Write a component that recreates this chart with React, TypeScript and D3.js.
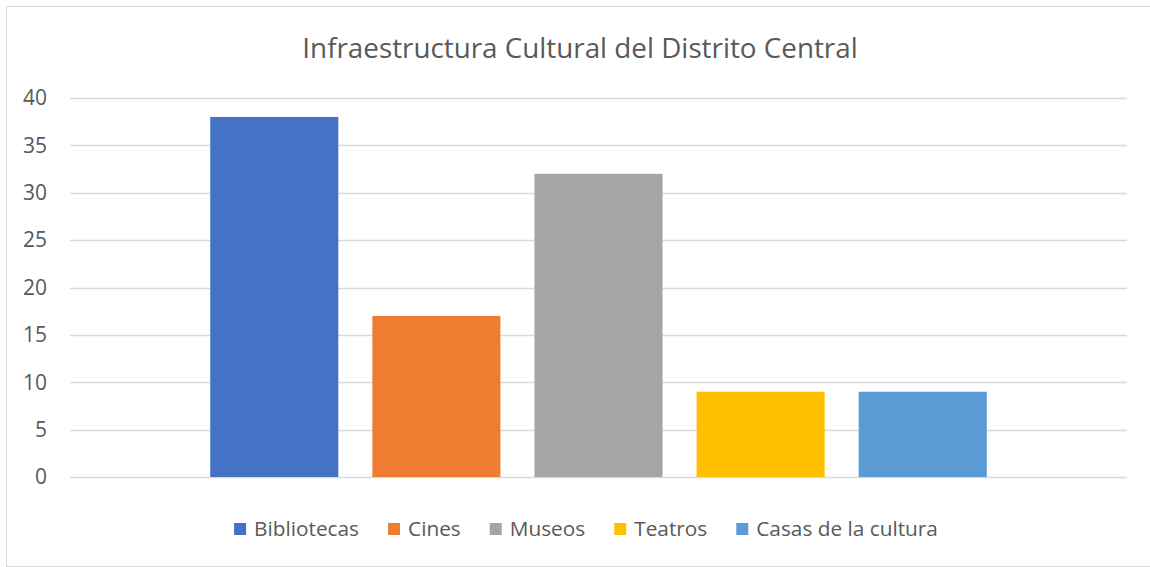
import React, { useEffect, useRef } from "react";
import * as d3 from "d3";

const title = "Infraestructura Cultural del Distrito Central";
const category = "Distrito Central";
const seriesNames = ["Bibliotecas", "Cines", "Museos", "Teatros", "Casas de la cultura"];
const seriesValues = [38, 17, 32, 9, 9];
const seriesColors = ["#4472C4", "#ED7D31", "#A5A5A5", "#FFC000", "#5B9BD5"];
const yTicks = [0, 5, 10, 15, 20, 25, 30, 35, 40];

const W = 1150;
const H = 567;
const FONT = "'Open Sans', sans-serif";
const TEXT = "#595959";
const GRID = "#d9d9d9";

export default function App() {
  const ref = useRef<SVGSVGElement>(null);

  useEffect(() => {
    const svg = d3.select(ref.current);
    svg.selectAll("*").remove();

    const plotLeft = 70;
    const plotRight = 1127;
    const plotTop = 98;
    const plotBottom = 477;

    // chart border
    svg.append("rect")
      .attr("x", 6.5).attr("y", 6.5)
      .attr("width", W + 10).attr("height", H - 7)
      .attr("fill", "white").attr("stroke", GRID).attr("stroke-width", 1);

    const y = d3.scaleLinear().domain([0, 40]).range([plotBottom, plotTop]);
    const x0 = d3.scaleBand<string>().domain([category]).range([plotLeft, plotRight]);
    const x1 = d3.scaleBand<string>()
      .domain(seriesNames)
      .range([x0(category)!, x0(category)! + x0.bandwidth()])
      .paddingInner(0.21)
      .paddingOuter(0.865);

    // gridlines
    svg.append("g").selectAll("line").data(yTicks).join("line")
      .attr("x1", plotLeft).attr("x2", plotRight)
      .attr("y1", d => Math.round(y(d)) + 0.5).attr("y2", d => Math.round(y(d)) + 0.5)
      .attr("stroke", GRID).attr("stroke-width", 1.3);

    // y labels
    svg.append("g").selectAll("text").data(yTicks).join("text")
      .attr("x", 47).attr("y", d => y(d))
      .attr("dy", "0.35em")
      .attr("text-anchor", "end")
      .attr("font-family", FONT).attr("font-size", 21)
      .attr("fill", TEXT)
      .text(d => String(d));

    // bars
    svg.append("g").selectAll("rect").data(seriesNames).join("rect")
      .attr("x", d => x1(d)!)
      .attr("width", x1.bandwidth())
      .attr("y", (_, i) => y(seriesValues[i]))
      .attr("height", (_, i) => plotBottom - y(seriesValues[i]))
      .attr("fill", (_, i) => seriesColors[i]);

    // title
    svg.append("text")
      .attr("x", 580).attr("y", 58)
      .attr("text-anchor", "middle")
      .attr("font-family", FONT).attr("font-size", 27.8)
      .attr("fill", TEXT)
      .text(title);

    // legend
    const lg = svg.append("g");
    const items = seriesNames.map((name, i) => {
      const g = lg.append("g");
      g.append("rect").attr("x", 0).attr("y", -13).attr("width", 12).attr("height", 12)
        .attr("fill", seriesColors[i]);
      const t = g.append("text").attr("x", 20).attr("y", 0)
        .attr("font-family", FONT).attr("font-size", 20.8)
        .attr("fill", TEXT).text(name);
      const w = 20 + (t.node() as SVGTextElement).getComputedTextLength();
      return { g, w };
    });
    const gap = 29;
    const total = items.reduce((s, it) => s + it.w, 0) + gap * (items.length - 1);
    let cx = (237 + 935) / 2 - total / 2;
    items.forEach(it => {
      it.g.attr("transform", `translate(${cx},536)`);
      cx += it.w + gap;
    });
  }, []);

  return (
    <svg ref={ref} width={W} height={H}
      style={{ position: "absolute", left: 0, top: 0, background: "white" }} />
  );
}
